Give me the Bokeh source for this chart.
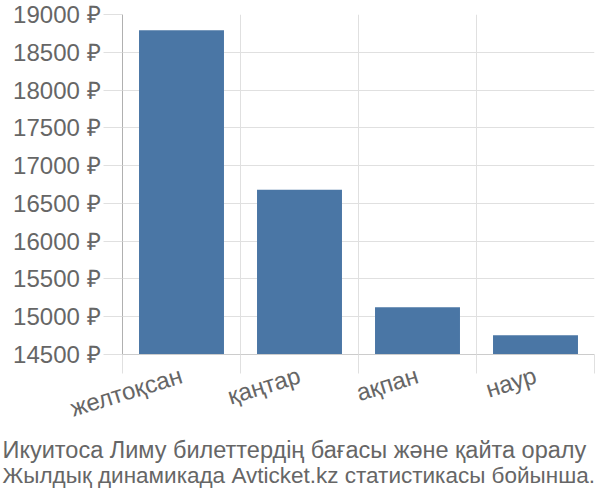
from bokeh.plotting import figure
from bokeh.models import FixedTicker, PrintfTickFormatter, Title, ColumnDataSource, Range1d
from bokeh.embed import file_html
from bokeh.resources import INLINE

months = ["желтоқсан", "қаңтар", "ақпан", "наур"]
prices = [18790, 16680, 15125, 14755]
y_ticks = [14500, 15000, 15500, 16000, 16500, 17000, 17500, 18000, 18500, 19000]
footer_lines = [
    "Икуитоса Лиму билеттердің бағасы және қайта оралу",
    "Жылдық динамикада Avticket.kz статистикасы бойынша.",
]
footer_sizes = ["23.5px", "22.5px"]

FONT = "Liberation Sans"
TEXT_COLOR = "#666666"
GRID = "#e0e0e0"

xs = [i + 0.5 for i in range(len(months))]
bounds = list(range(len(months) + 1))
src = ColumnDataSource(dict(x=xs, top=prices))

p = figure(width=600, height=500, output_backend="svg", toolbar_location=None,
           x_range=Range1d(0, len(months)), y_range=Range1d(y_ticks[0], y_ticks[-1]),
           min_border_left=122, min_border_top=14, min_border_right=6, min_border_bottom=146)
p.outline_line_color = None
p.background_fill_color = "white"

p.vbar(x="x", top="top", bottom=y_ticks[0], width=0.72, source=src,
       fill_color="#4a76a5", line_color=None)

# x axis
xa = p.xaxis[0]
xa.ticker = FixedTicker(ticks=xs, minor_ticks=bounds)
xa.major_label_overrides = {x: m for x, m in zip(xs, months)}
xa.major_tick_out = 0
xa.major_tick_in = 0
xa.minor_tick_out = 19
xa.minor_tick_in = 0
xa.minor_tick_line_color = GRID
xa.axis_line_color = "#cccccc"
xa.major_label_orientation = 0.3
xa.major_label_text_font = FONT
xa.major_label_text_font_size = "24px"
xa.major_label_text_color = TEXT_COLOR
xa.major_label_standoff = 1
p.xgrid.ticker = FixedTicker(ticks=bounds)
p.xgrid.grid_line_color = GRID

# y axis
ya = p.yaxis[0]
ya.ticker = FixedTicker(ticks=y_ticks)
ya.formatter = PrintfTickFormatter(format="%d ₽")
ya.major_tick_out = 19
ya.major_tick_in = 0
ya.major_tick_line_color = GRID
ya.minor_tick_line_color = None
ya.axis_line_color = "#b0b0b0"
ya.major_label_text_font = FONT
ya.major_label_text_font_size = "24px"
ya.major_label_text_color = TEXT_COLOR
ya.major_label_standoff = 3
p.ygrid.ticker = FixedTicker(ticks=y_ticks)
p.ygrid.grid_line_color = GRID

for i, (line, size) in enumerate(zip(footer_lines, footer_sizes)):
    p.add_layout(Title(text=line, align="left", text_font=FONT, text_font_size=size,
                       text_font_style="normal", text_color=TEXT_COLOR, offset=-120,
                       standoff=(-5 if i == 0 else 0), text_line_height=1.0), "below")

open("out.html", "w").write(file_html(p, INLINE))
